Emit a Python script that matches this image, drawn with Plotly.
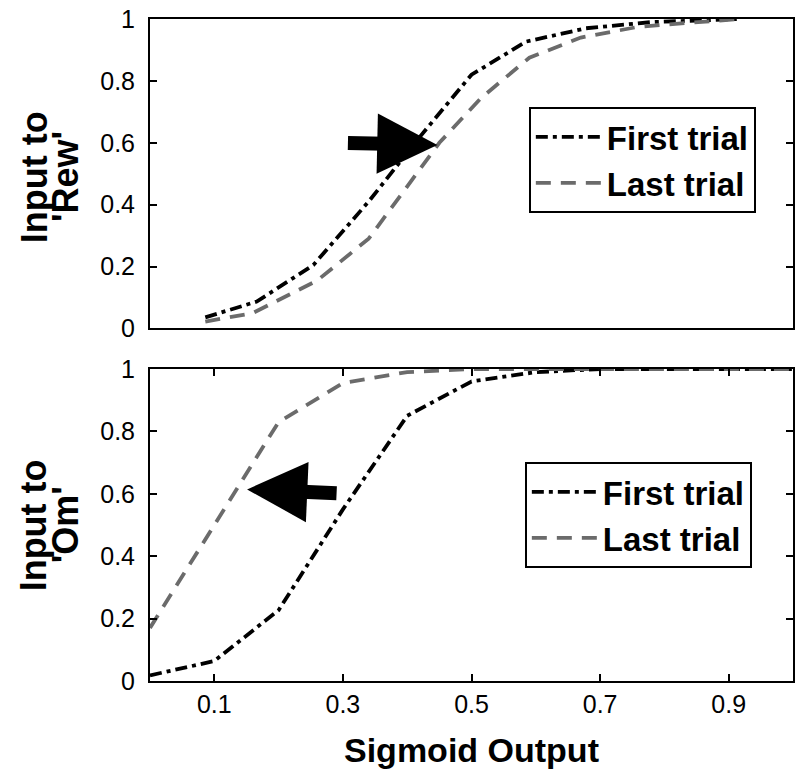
import plotly.graph_objects as go

# ---- data ----
top_first_x = [0.086, 0.166, 0.254, 0.34, 0.42, 0.5, 0.585, 0.678, 0.78, 0.916]
top_first_y = [0.036, 0.087, 0.205, 0.41, 0.62, 0.82, 0.927, 0.97, 0.99, 1.0]
top_last_x = [0.086, 0.16, 0.26, 0.34, 0.45, 0.515, 0.59, 0.67, 0.76, 0.916]
top_last_y = [0.022, 0.05, 0.155, 0.29, 0.6, 0.745, 0.875, 0.94, 0.975, 1.0]

bottom_x = [0.0, 0.1, 0.2, 0.3, 0.4, 0.5, 0.6, 0.7, 0.8, 0.9, 1.0]
bottom_first_y = [0.018, 0.064, 0.227, 0.55, 0.85, 0.96, 0.99, 1.0, 1.0, 1.0, 1.0]
bottom_last_y = [0.17, 0.5, 0.83, 0.955, 0.99, 1.0, 1.0, 1.0, 1.0, 1.0, 1.0]

series_names = ["First trial", "Last trial"]
x_tick_vals = [0.1, 0.3, 0.5, 0.7, 0.9]
x_tick_text = ["0.1", "0.3", "0.5", "0.7", "0.9"]
y_tick_vals = [0, 0.2, 0.4, 0.6, 0.8, 1.0]
y_tick_text = ["0", "0.2", "0.4", "0.6", "0.8", "1"]

BLACK = "#000000"
GRAY = "#6b6b6b"
FIRST_DASH = "12px,5px,4px,5px"
LAST_DASH = "15px,10px"
LW = 3.8

fig = go.Figure()
fig.add_trace(go.Scatter(x=top_first_x, y=top_first_y, mode="lines", name=series_names[0],
                         line=dict(color=BLACK, width=LW, dash=FIRST_DASH),
                         xaxis="x", yaxis="y", legend="legend"))
fig.add_trace(go.Scatter(x=top_last_x, y=top_last_y, mode="lines", name=series_names[1],
                         line=dict(color=GRAY, width=LW, dash=LAST_DASH),
                         xaxis="x", yaxis="y", legend="legend"))
fig.add_trace(go.Scatter(x=bottom_x, y=bottom_first_y, mode="lines", name=series_names[0],
                         line=dict(color=BLACK, width=LW, dash=FIRST_DASH),
                         xaxis="x2", yaxis="y2", legend="legend2"))
fig.add_trace(go.Scatter(x=bottom_x, y=bottom_last_y, mode="lines", name=series_names[1],
                         line=dict(color=GRAY, width=LW, dash=LAST_DASH),
                         xaxis="x2", yaxis="y2", legend="legend2"))

FAM = "Liberation Sans, Arial, sans-serif"
TICKFONT = dict(family=FAM, size=25, color="black")
LEGFONT = dict(family=FAM, size=33, color="black", weight="bold")
XTITLEFONT = dict(family=FAM, size=34, color="black", weight="bold")
YTITLEFONT = dict(family=FAM, size=36, color="black", weight="bold")

common_axis = dict(showline=True, linecolor="black", linewidth=2, mirror="ticks",
                   showgrid=False, zeroline=False, ticks="inside", ticklen=7,
                   tickwidth=1.5, tickcolor="black", tickfont=TICKFONT)

legend_common = dict(font=LEGFONT, bgcolor="white", bordercolor="black", borderwidth=2,
                     itemwidth=66, xanchor="left", yanchor="top", itemclick=False,
                     tracegroupgap=0)

fig.update_layout(
    width=796, height=772,
    margin=dict(l=150, r=1, t=19, b=91),
    paper_bgcolor="white", plot_bgcolor="white",
    xaxis=dict(domain=[0, 1], anchor="y", range=[0, 1], showline=True, linecolor="black",
               linewidth=2, mirror=True, showgrid=False, zeroline=False, ticks="",
               showticklabels=False),
    yaxis=dict(domain=[0.5325, 1], anchor="x", range=[0, 1], tickvals=y_tick_vals,
               ticktext=y_tick_text, ticklabelstandoff=8, **common_axis),
    xaxis2=dict(domain=[0, 1], anchor="y2", range=[0, 1], tickvals=x_tick_vals,
                ticktext=x_tick_text, ticklabelstandoff=0, **common_axis),
    yaxis2=dict(domain=[0, 0.4713], anchor="x2", range=[0, 1], tickvals=y_tick_vals,
                ticktext=y_tick_text, ticklabelstandoff=8, **common_axis),
    legend=dict(x=(530 - 150) / 645, y=(681 - 107) / 662, **legend_common),
    legend2=dict(x=(526 - 150) / 645, y=(681 - 462) / 662, **legend_common),
    showlegend=True,
)

# arrows
fig.add_annotation(x=0.447, y=0.593, xref="x", yref="y", ax=-91, ay=-2, text="",
                   showarrow=True, arrowhead=2, arrowwidth=14, arrowsize=0.86,
                   arrowcolor="black")
fig.add_annotation(x=0.151, y=0.614, xref="x2", yref="y2", ax=91, ay=4, text="",
                   showarrow=True, arrowhead=2, arrowwidth=14, arrowsize=0.86,
                   arrowcolor="black")

# axis titles (two-line y titles as separate lines for tight spacing)
for yref, yv, line2 in [("y domain", 0.49, "'Rew'"), ("y2 domain", 0.50, "'Om'")]:
    fig.add_annotation(x=(34 - 150) / 645, y=yv, xref="paper", yref=yref, text="Input to",
                       textangle=-90, showarrow=False, xanchor="center", yanchor="middle",
                       font=YTITLEFONT)
    fig.add_annotation(x=(66 - 150) / 645, y=yv, xref="paper", yref=yref, text=line2,
                       textangle=-90, showarrow=False, xanchor="center", yanchor="middle",
                       font=YTITLEFONT)

fig.add_annotation(x=0.5, y=(681 - 750) / 662, xref="paper", yref="paper",
                   text="Sigmoid Output", showarrow=False, xanchor="center",
                   yanchor="middle", font=XTITLEFONT)

fig.write_html("out.html", config={"displayModeBar": False},
               post_script="document.body.style.margin='0px';document.body.style.overflow='hidden';")
